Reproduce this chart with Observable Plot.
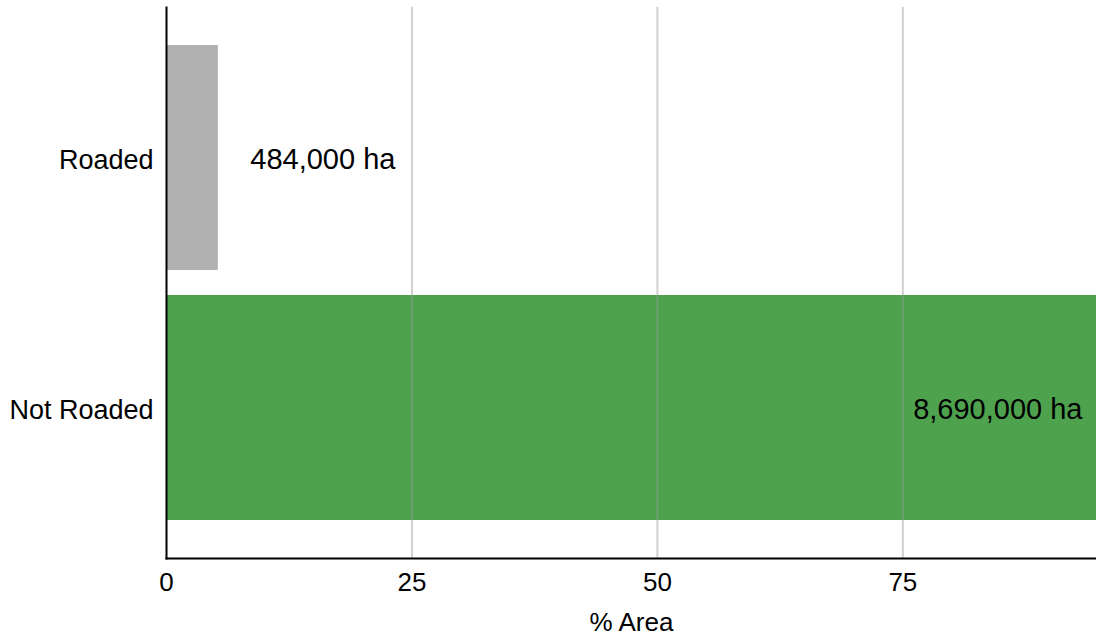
<!DOCTYPE html>
<html>
<head>
<meta charset="utf-8">
<script src="https://cdn.jsdelivr.net/npm/d3@7"></script>
<script src="https://cdn.jsdelivr.net/npm/@observablehq/plot@0.6"></script>
<style>
  html, body { margin: 0; padding: 0; background: #fff; }
</style>
</head>
<body>
<div id="chart"></div>
<script>
const categories = ["Roaded", "Not Roaded"];
const hectares = [484000, 8690000];
const valueLabels = ["484,000 ha", "8,690,000 ha"];
const xTicks = [0, 25, 50, 75];
const gridTicks = [25, 50, 75];
const colors = ["#b0b0b0", "#4ea24e"];

const total = d3.sum(hectares);
const data = categories.map((c, i) => ({
  category: c,
  pct: hectares[i] / total * 100,
  label: valueLabels[i],
  color: colors[i]
}));

const chart = Plot.plot({
  width: 1096,
  height: 643,
  marginTop: 7,
  marginBottom: 85,
  marginLeft: 166,
  marginRight: 0,
  style: { fontFamily: "'Liberation Sans', Arial, sans-serif", fontSize: "26px", color: "#000", background: "#fff" },
  x: { domain: [0, d3.max(data, d => d.pct)] },
  y: { domain: categories, paddingInner: 0.1, paddingOuter: 0.15 },
  marks: [
    Plot.barX(data, { y: "category", x: "pct", fill: d => d.color }),
    Plot.ruleX(gridTicks, { stroke: "#999", strokeOpacity: 0.45, strokeWidth: 2 }),
    Plot.text(data.filter(d => d.category === "Roaded"), { y: "category", x: "pct", text: "label", textAnchor: "start", dx: 32, dy: 2, fontSize: 29, fill: "#000" }),
    Plot.text(data.filter(d => d.category === "Not Roaded"), { y: "category", x: "pct", text: "label", textAnchor: "end", dx: -14, dy: 2, fontSize: 29, fill: "#000" }),
    Plot.axisX({ ticks: xTicks, tickSize: 0, tickPadding: 14, fontSize: 26, label: "% Area", labelAnchor: "center", labelArrow: "none", labelOffset: 72 }),
    Plot.axisY({ tickSize: 0, tickPadding: 13, fontSize: 27, dy: 2, label: null }),
    Plot.frame({ anchor: "left", stroke: "#000", strokeWidth: 2 }),
    Plot.frame({ anchor: "bottom", stroke: "#000", strokeWidth: 2 })
  ]
});
document.getElementById("chart").appendChild(chart);
</script>
</body>
</html>
